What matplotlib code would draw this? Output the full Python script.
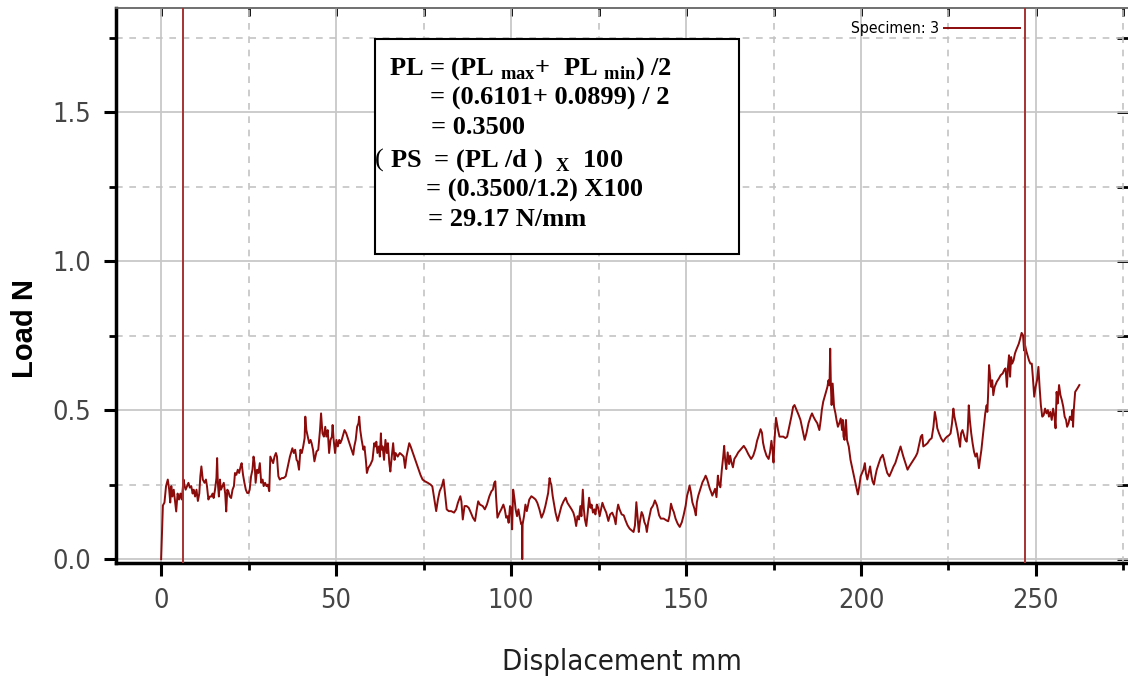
import matplotlib
matplotlib.use("Agg")
import matplotlib.pyplot as plt
from matplotlib.ticker import MultipleLocator
from matplotlib.patches import Rectangle

# peel test trace, specimen 3
disp = [
    0.0, 0.2, 0.5, 0.95, 1.4, 1.9, 2.3, 2.6, 2.9, 3.2,
    3.6, 4.0, 4.3, 4.7, 5.1, 5.5, 5.9, 6.4, 6.7, 7.0,
    7.4, 7.8, 8.2, 8.6, 9.0, 9.3, 9.7, 10.1, 10.5, 10.9,
    11.2, 11.5, 11.9, 12.4, 12.8, 13.1, 13.5, 13.9, 14.3, 14.7,
    15.0, 15.4, 15.8, 16.0, 16.2, 16.5, 16.8, 17.1, 17.5, 17.9,
    18.3, 18.6, 18.9, 19.2, 19.6, 20.0, 20.4, 20.8, 21.1, 21.5,
    21.9, 22.3, 22.7, 23.0, 23.4, 23.8, 24.2, 24.6, 25.0, 25.3,
    25.7, 26.1, 26.4, 26.7, 27.0, 27.4, 27.8, 28.2, 28.6, 29.0,
    29.3, 29.7, 30.1, 30.5, 30.9, 31.2, 31.6, 32.0, 32.4, 32.8,
    33.1, 33.5, 33.9, 34.5, 35.0, 35.6, 36.0, 36.4, 36.8, 37.1,
    37.5, 37.9, 38.3, 38.7, 39.0, 39.4, 39.8, 40.2, 40.6, 41.0,
    41.2, 41.5, 41.9, 42.3, 42.7, 43.0, 43.4, 43.8, 44.4, 44.9,
    45.4, 45.7, 46.1, 46.5, 46.9, 47.2, 47.6, 48.0, 48.4, 48.8,
    49.0, 49.3, 49.7, 50.1, 50.5, 50.9, 51.2, 51.6, 52.4, 52.9,
    53.5, 54.1, 54.9, 55.2, 55.6, 56.0, 56.4, 56.6, 56.9, 57.3,
    57.8, 58.1, 58.5, 58.8, 59.2, 59.8, 60.4, 60.9, 61.2, 61.5,
    61.8, 62.2, 62.5, 62.8, 63.0, 63.3, 63.7, 64.1, 64.5, 64.8,
    65.2, 65.5, 65.9, 66.3, 66.7, 67.0, 67.6, 68.2, 68.8, 69.3,
    69.7, 70.1, 70.5, 70.9, 71.3, 71.8, 72.6, 73.3, 74.1, 74.7,
    75.4, 76.2, 77.0, 77.5, 78.1, 78.6, 79.1, 79.6, 80.2, 80.7,
    81.1, 81.6, 82.2, 82.9, 83.7, 84.3, 84.8, 85.5, 85.8, 86.2,
    86.7, 87.3, 87.9, 88.5, 89.1, 89.7, 90.2, 90.6, 91.1, 91.9,
    92.5, 93.1, 93.8, 94.4, 94.8, 95.2, 95.5, 95.7, 96.1, 96.7,
    97.2, 97.8, 98.2, 98.6, 99.0, 99.3, 99.7, 100.0, 100.3, 100.6,
    101.0, 101.3, 101.7, 102.1, 102.5, 102.9, 103.1, 103.2, 103.3, 103.7,
    104.1, 104.5, 104.9, 105.2, 105.8, 106.4, 107.0, 107.5, 108.1, 108.7,
    109.3, 109.8, 110.2, 110.6, 111.0, 111.3, 111.5, 111.9, 112.3, 112.7,
    113.3, 113.9, 114.4, 115.0, 115.6, 116.1, 116.7, 117.3, 117.8, 118.2,
    118.6, 119.0, 119.4, 119.8, 120.1, 120.5, 120.8, 121.1, 121.5, 121.9,
    122.3, 122.7, 123.0, 123.4, 123.8, 124.1, 124.5, 124.9, 125.3, 125.7,
    126.1, 126.6, 127.2, 127.8, 128.3, 128.9, 129.5, 129.9, 130.2, 130.6,
    131.0, 131.6, 132.2, 132.7, 133.3, 133.9, 134.4, 135.0, 135.4, 135.8,
    136.2, 136.5, 136.8, 137.3, 137.7, 138.1, 138.5, 138.8, 139.2, 139.6,
    140.0, 140.6, 141.1, 141.7, 142.3, 142.8, 143.6, 144.4, 144.9, 145.3,
    145.7, 146.1, 146.5, 147.0, 147.6, 148.2, 148.8, 149.3, 149.9, 150.3,
    150.7, 151.0, 151.4, 151.8, 152.4, 152.8, 153.1, 153.5, 154.1, 154.7,
    155.2, 155.6, 156.0, 156.4, 156.8, 157.2, 157.5, 157.9, 158.3, 158.7,
    159.1, 159.4, 159.8, 160.2, 160.6, 160.9, 161.2, 161.5, 161.9, 162.3,
    162.6, 163.0, 163.4, 163.8, 164.4, 164.9, 165.7, 166.5, 167.1, 167.8,
    168.6, 169.2, 169.8, 170.3, 170.9, 171.3, 171.7, 172.0, 172.4, 173.0,
    173.6, 174.0, 174.4, 174.7, 175.0, 175.3, 175.7, 176.3, 176.7, 177.2,
    177.8, 178.4, 178.9, 179.5, 180.1, 180.6, 181.0, 181.6, 182.2, 182.7,
    183.3, 183.9, 184.4, 185.0, 185.6, 186.0, 186.4, 186.9, 187.5, 188.1,
    188.5, 188.8, 189.2, 189.6, 190.0, 190.4, 190.7, 191.0, 191.2, 191.4,
    191.6, 191.9, 192.3, 192.7, 193.0, 193.4, 193.8, 194.2, 194.6, 194.8,
    195.0, 195.3, 195.5, 195.7, 196.0, 196.5, 197.0, 197.6, 198.2, 198.8,
    199.1, 199.5, 199.9, 200.3, 200.7, 201.1, 201.4, 201.8, 202.2, 202.6,
    203.0, 203.3, 203.7, 204.1, 204.5, 205.1, 205.6, 206.2, 206.6, 207.0,
    207.5, 208.1, 208.7, 209.3, 209.8, 210.4, 211.0, 211.3, 211.7, 212.1,
    212.7, 213.3, 213.8, 214.4, 215.0, 215.6, 216.1, 216.7, 217.1, 217.5,
    217.8, 218.4, 219.0, 219.6, 220.2, 220.7, 221.1, 221.5, 221.8, 222.3,
    222.9, 223.5, 224.1, 224.6, 225.2, 225.6, 226.0, 226.4, 226.7, 227.1,
    227.5, 227.9, 228.3, 228.6, 229.0, 229.4, 229.8, 230.2, 230.5, 230.8,
    231.1, 231.5, 231.9, 232.3, 232.7, 233.1, 233.4, 233.7, 234.0, 234.4,
    234.8, 235.1, 235.5, 235.9, 236.1, 236.3, 236.6, 236.9, 237.2, 237.5,
    237.8, 238.2, 238.8, 239.4, 239.9, 240.5, 240.9, 241.3, 241.7, 242.0,
    242.3, 242.6, 242.9, 243.2, 243.6, 244.0, 244.3, 244.7, 245.1, 245.5,
    245.9, 246.3, 246.6, 246.8, 247.2, 247.6, 248.0, 248.4, 248.8, 249.1,
    249.5, 249.9, 250.3, 250.7, 251.0, 251.4, 251.8, 252.2, 252.6, 253.0,
    253.4, 253.7, 254.1, 254.5, 254.9, 255.3, 255.6, 255.9, 256.2, 256.6,
    257.0, 257.4, 257.8, 258.2, 258.6, 258.9, 259.3, 259.7, 260.1, 260.4,
    260.6, 260.8, 261.2, 261.8, 262.4,
]
load = [
    0.0, 0.07, 0.18, 0.19, 0.245, 0.267, 0.233, 0.19, 0.245, 0.21,
    0.233, 0.19, 0.16, 0.22, 0.20, 0.22, 0.20, 0.267, 0.245, 0.233,
    0.245, 0.256, 0.24, 0.245, 0.22, 0.233, 0.21, 0.233, 0.195, 0.22,
    0.278, 0.311, 0.267, 0.256, 0.267, 0.245, 0.20, 0.21, 0.21, 0.22,
    0.205, 0.233, 0.272, 0.339, 0.256, 0.21, 0.267, 0.233, 0.245, 0.256,
    0.22, 0.16, 0.233, 0.228, 0.21, 0.205, 0.233, 0.245, 0.289, 0.283,
    0.30, 0.289, 0.311, 0.322, 0.283, 0.256, 0.233, 0.222, 0.222, 0.233,
    0.278, 0.30, 0.344, 0.322, 0.256, 0.30, 0.289, 0.322, 0.256, 0.267,
    0.245, 0.256, 0.245, 0.25, 0.228, 0.344, 0.333, 0.322, 0.344, 0.356,
    0.344, 0.278, 0.267, 0.272, 0.272, 0.278, 0.30, 0.322, 0.344, 0.356,
    0.372, 0.356, 0.367, 0.333, 0.328, 0.30, 0.367, 0.356, 0.378, 0.406,
    0.478, 0.433, 0.411, 0.389, 0.40, 0.389, 0.367, 0.328, 0.361, 0.367,
    0.433, 0.489, 0.422, 0.411, 0.444, 0.411, 0.433, 0.356, 0.40, 0.411,
    0.45, 0.40, 0.356, 0.40, 0.378, 0.40, 0.389, 0.40, 0.433, 0.422,
    0.40, 0.378, 0.35, 0.378, 0.40, 0.444, 0.456, 0.478, 0.433, 0.40,
    0.367, 0.378, 0.333, 0.289, 0.306, 0.317, 0.333, 0.389, 0.378, 0.394,
    0.356, 0.378, 0.344, 0.422, 0.367, 0.378, 0.333, 0.40, 0.356, 0.389,
    0.322, 0.294, 0.344, 0.389, 0.333, 0.356, 0.344, 0.356, 0.35, 0.344,
    0.306, 0.344, 0.367, 0.389, 0.378, 0.361, 0.333, 0.311, 0.283, 0.267,
    0.261, 0.256, 0.25, 0.244, 0.20, 0.161, 0.20, 0.228, 0.244, 0.267,
    0.222, 0.167, 0.161, 0.161, 0.156, 0.167, 0.189, 0.211, 0.194, 0.133,
    0.178, 0.178, 0.172, 0.156, 0.139, 0.128, 0.167, 0.194, 0.183, 0.178,
    0.167, 0.183, 0.211, 0.228, 0.233, 0.256, 0.261, 0.211, 0.139, 0.156,
    0.167, 0.183, 0.167, 0.139, 0.144, 0.122, 0.178, 0.172, 0.10, 0.233,
    0.20, 0.167, 0.144, 0.167, 0.139, 0.117, 0.122, 0.0, 0.117, 0.144,
    0.183, 0.161, 0.183, 0.20, 0.211, 0.206, 0.20, 0.189, 0.167, 0.139,
    0.156, 0.178, 0.20, 0.222, 0.272, 0.256, 0.25, 0.211, 0.183, 0.156,
    0.128, 0.156, 0.178, 0.194, 0.206, 0.189, 0.178, 0.167, 0.156, 0.139,
    0.111, 0.144, 0.133, 0.178, 0.144, 0.233, 0.167, 0.133, 0.111, 0.156,
    0.206, 0.172, 0.183, 0.156, 0.167, 0.15, 0.183, 0.172, 0.144, 0.167,
    0.189, 0.172, 0.156, 0.128, 0.15, 0.156, 0.139, 0.117, 0.156, 0.183,
    0.167, 0.15, 0.147, 0.13, 0.113, 0.102, 0.097, 0.091, 0.113, 0.191,
    0.136, 0.091, 0.124, 0.158, 0.147, 0.124, 0.113, 0.091, 0.124, 0.147,
    0.169, 0.18, 0.197, 0.18, 0.147, 0.136, 0.136, 0.13, 0.127, 0.147,
    0.186, 0.169, 0.158, 0.136, 0.119, 0.108, 0.124, 0.147, 0.18, 0.213,
    0.23, 0.247, 0.224, 0.191, 0.169, 0.147, 0.191, 0.213, 0.236, 0.258,
    0.269, 0.28, 0.269, 0.252, 0.236, 0.224, 0.213, 0.224, 0.236, 0.208,
    0.28, 0.252, 0.241, 0.297, 0.341, 0.38, 0.33, 0.302, 0.358, 0.319,
    0.347, 0.324, 0.308, 0.336, 0.347, 0.358, 0.369, 0.38, 0.369, 0.352,
    0.336, 0.347, 0.369, 0.397, 0.419, 0.436, 0.424, 0.391, 0.369, 0.347,
    0.336, 0.358, 0.397, 0.369, 0.324, 0.402, 0.474, 0.433, 0.411, 0.411,
    0.411, 0.406, 0.411, 0.444, 0.478, 0.511, 0.517, 0.50, 0.483, 0.467,
    0.433, 0.40, 0.422, 0.456, 0.478, 0.489, 0.478, 0.467, 0.456, 0.433,
    0.467, 0.50, 0.528, 0.544, 0.561, 0.578, 0.60, 0.583, 0.706, 0.578,
    0.517, 0.589, 0.511, 0.489, 0.467, 0.444, 0.456, 0.472, 0.433, 0.467,
    0.411, 0.40, 0.444, 0.467, 0.40, 0.378, 0.333, 0.30, 0.267, 0.233,
    0.217, 0.244, 0.278, 0.289, 0.30, 0.322, 0.289, 0.267, 0.289, 0.311,
    0.278, 0.261, 0.25, 0.278, 0.30, 0.322, 0.339, 0.35, 0.333, 0.311,
    0.289, 0.278, 0.294, 0.311, 0.322, 0.344, 0.367, 0.378, 0.361, 0.344,
    0.322, 0.30, 0.311, 0.322, 0.333, 0.344, 0.356, 0.389, 0.411, 0.417,
    0.378, 0.383, 0.389, 0.40, 0.406, 0.444, 0.494, 0.467, 0.439, 0.422,
    0.405, 0.394, 0.405, 0.411, 0.416, 0.422, 0.455, 0.505, 0.478, 0.455,
    0.433, 0.405, 0.377, 0.422, 0.433, 0.416, 0.40, 0.394, 0.433, 0.516,
    0.467, 0.422, 0.388, 0.36, 0.344, 0.355, 0.333, 0.305, 0.333, 0.366,
    0.411, 0.444, 0.489, 0.516, 0.494, 0.545, 0.651, 0.612, 0.578, 0.60,
    0.55, 0.578, 0.595, 0.606, 0.617, 0.623, 0.634, 0.64, 0.578, 0.645,
    0.684, 0.612, 0.678, 0.656, 0.667, 0.69, 0.70, 0.712, 0.723, 0.74,
    0.759, 0.751, 0.70, 0.723, 0.70, 0.684, 0.667, 0.656, 0.656, 0.612,
    0.545, 0.578, 0.60, 0.645, 0.584, 0.516, 0.478, 0.483, 0.505, 0.489,
    0.50, 0.478, 0.494, 0.467, 0.505, 0.478, 0.439, 0.561, 0.522, 0.584,
    0.55, 0.533, 0.511, 0.478, 0.467, 0.444, 0.455, 0.478, 0.467, 0.50,
    0.444, 0.50, 0.561, 0.572, 0.584,
]
assert len(disp) == len(load)

# cursor positions (mm)
cursors = [6.3, 246.9]

formula_lines = [
    r"PL = (PL ${}_{\rm max}$+  PL ${}_{\rm min}$) /2",
    "= (0.6101+ 0.0899) / 2",
    "= 0.3500",
    r"PS  = (PL /d )  ${}_{\rm X}$  100",
    "= (0.3500/1.2) X100",
    "= 29.17 N/mm",
]

plt.rcParams["mathtext.fontset"] = "custom"
plt.rcParams["mathtext.rm"] = "Liberation Serif:bold"
plt.rcParams["mathtext.bf"] = "Liberation Serif:bold"
narrow = dict(family="DejaVu Sans", stretch="condensed")

W, H = 1128, 684
fig = plt.figure(figsize=(W / 100, H / 100), dpi=100)
ax = fig.add_axes([116 / W, 1 - 563 / H, 1 - 116 / W, (563 - 8) / H])

ax.plot(disp, load, color="#8b0a0a", lw=1.4, label="Specimen: 3", zorder=3)
for c in cursors:
    ax.axvline(c, color="#a63232", lw=1.4, zorder=3)

ax.set_xlim(-12.9, 276.3)
ax.set_ylim(-0.013, 1.849)
ax.xaxis.set_major_locator(MultipleLocator(50))
ax.xaxis.set_minor_locator(MultipleLocator(25))
ax.yaxis.set_major_locator(MultipleLocator(0.5))
ax.yaxis.set_minor_locator(MultipleLocator(0.25))
ax.yaxis.set_major_formatter(lambda v, p: f"{v:.1f}")
ax.grid(which="major", color="#c8c8c8", lw=1.3, ls="-")
ax.grid(which="minor", color="#c4c4c4", lw=1.2, ls=(0, (4, 4)))
ax.set_axisbelow(True)

for s in ("left", "bottom"):
    ax.spines[s].set_linewidth(2.5)
    ax.spines[s].set_color("black")
ax.spines["top"].set_color("#707070")
ax.spines["top"].set_linewidth(1.2)
ax.spines["right"].set_visible(False)

ax.tick_params(which="major", direction="out", length=9, width=2.2, pad=9,
               color="black", labelsize=19.5, labelcolor="#454545")
ax.tick_params(which="minor", direction="out", length=5, width=2, color="black")
for lab in ax.get_xticklabels() + ax.get_yticklabels():
    lab.set_family(narrow["family"])
    lab.set_stretch(narrow["stretch"])

# inward ticks along the top and right edges
top = ax.secondary_xaxis("top")
top.xaxis.set_major_locator(MultipleLocator(50))
top.xaxis.set_minor_locator(MultipleLocator(25))
top.tick_params(which="both", direction="in", length=6, width=2, labeltop=False)
top.spines["top"].set_color("#707070")
top.spines["top"].set_linewidth(1.2)
right = ax.secondary_yaxis("right")
right.yaxis.set_major_locator(MultipleLocator(0.5))
right.yaxis.set_minor_locator(MultipleLocator(0.25))
right.tick_params(which="both", direction="in", length=8, width=2, labelright=False)
right.spines["right"].set_visible(False)

fig.text(25 / W, 1 - 328 / H, "Load N", rotation=90, ha="center", va="center",
         fontsize=21, fontweight="bold", family=["Liberation Sans", "DejaVu Sans"])
fig.text(622 / W, 1 - 662 / H, "Displacement mm", ha="center", va="center",
         fontsize=21, color="#202020", **narrow)

leg = ax.legend(loc="center right", bbox_to_anchor=(1028 / W, 1 - 29 / H),
                bbox_transform=fig.transFigure, frameon=False, markerfirst=False,
                borderpad=0, handlelength=4.85, handletextpad=0.3,
                prop=dict(size=11.3, **narrow))

# formula box
ax.add_patch(Rectangle((0.2555, 0.5576), 0.3603, 0.3864, transform=ax.transAxes,
                       facecolor="white", edgecolor="black", lw=1.5, zorder=5))
xs = [0.270, 0.310, 0.3114, 0.2705, 0.3064, 0.3084]
ys = [0.8795, 0.8255, 0.7734, 0.714, 0.660, 0.608]
for txt, x, y in zip(formula_lines, xs, ys):
    ax.text(x, y, txt, transform=ax.transAxes, ha="left", va="baseline",
            fontsize=19, fontweight="bold", family="Liberation Serif", zorder=6)
ax.text(0.2555, 0.714, "(", transform=ax.transAxes, ha="left", va="baseline",
        fontsize=19, family="Liberation Serif", zorder=6)

fig.savefig("out.png", dpi=100)
